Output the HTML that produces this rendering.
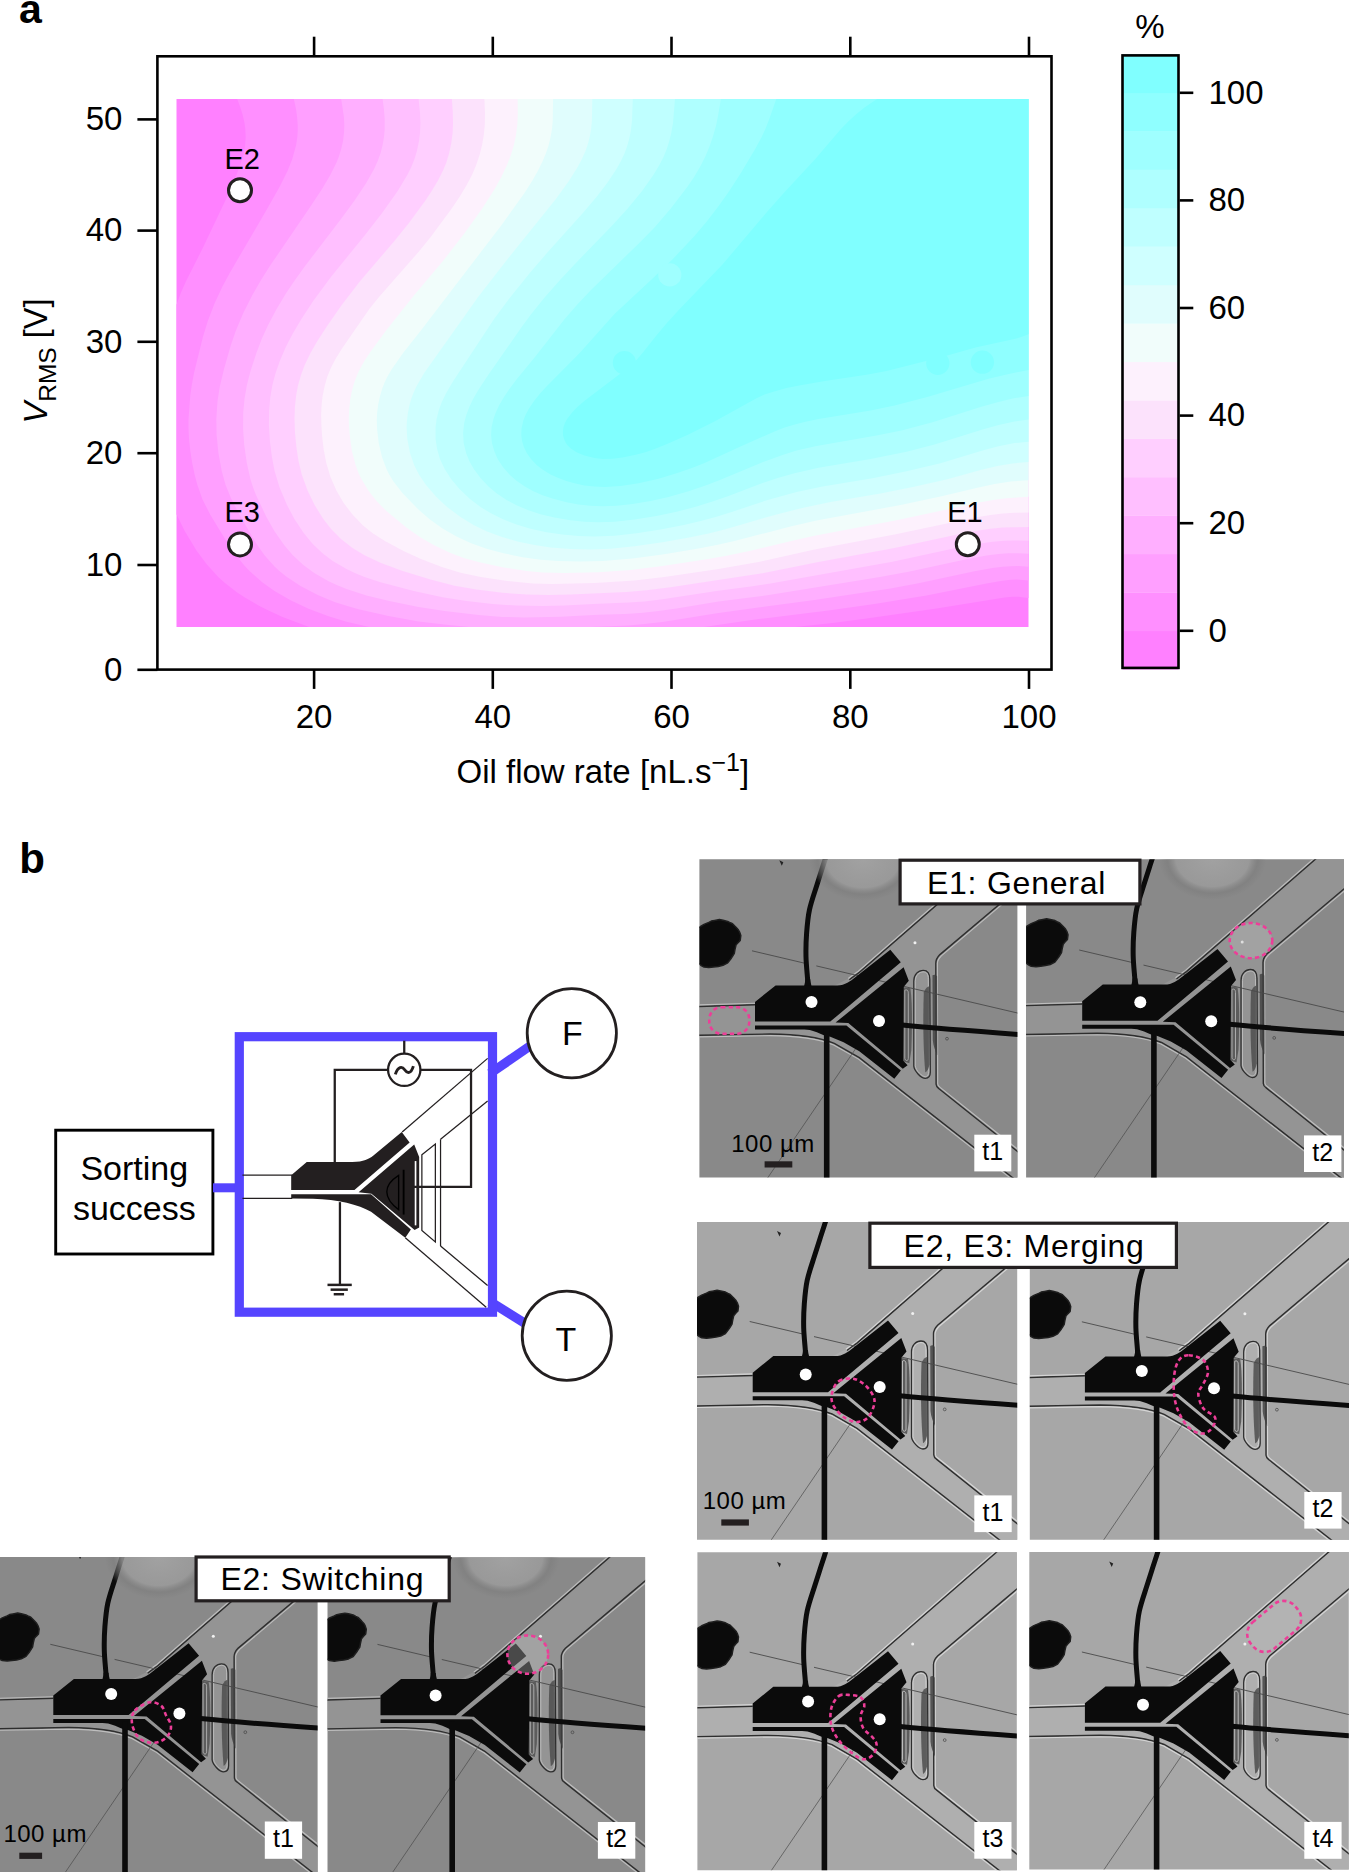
<!DOCTYPE html>
<html><head><meta charset="utf-8"><style>
html,body{margin:0;padding:0;background:#fff;}
body{width:1350px;height:1872px;overflow:hidden;}
svg{display:block;font-family:"Liberation Sans", sans-serif;}
</style></head><body>
<svg width="1350" height="1872" viewBox="0 0 1350 1872" font-family='"Liberation Sans", sans-serif'>
<text x="19" y="23.3" font-size="41" font-weight="bold">a</text>
<g id="contour"><rect x="176.5" y="99.0" width="852.0" height="528.0" fill="#FF80FF"/>
<path fill="#FF8FFF" fill-rule="evenodd" d="M238.5,99.0 1028.5,99.0 1028.5,598.0 1018.5,596.7 1012.5,596.7 1004.5,597.5 936.5,608.4 866.5,618.6 832.5,623.0 795.2,627.0 309.2,627.0 282.5,617.0 268.5,610.6 258.5,605.4 244.5,597.2 236.5,591.9 225.0,583.0 218.5,577.3 206.5,564.1 196.8,551.0 184.7,531.0 176.5,514.3 176.5,304.7 180.8,293.0 186.1,281.0 202.3,249.0 228.0,195.0 236.5,175.0 242.2,159.0 244.2,151.0 245.1,145.0 245.7,137.0 245.3,129.0 244.5,123.0 242.7,115.0 240.2,107.0 237.2,99.0Z"/>
<path fill="#FF9FFF" fill-rule="evenodd" d="M294.5,99.0 1028.5,99.0 1028.5,580.5 1016.5,579.6 1008.5,580.1 1000.8,581.0 986.5,583.5 926.5,595.5 874.5,604.0 828.5,610.6 758.5,619.1 704.0,627.0 369.3,627.0 346.5,621.8 328.5,616.3 308.5,608.7 290.5,600.3 274.5,591.1 262.5,582.6 249.5,571.0 243.9,565.0 239.1,559.0 225.0,539.0 210.4,515.0 202.5,499.4 197.4,485.0 194.7,475.0 192.2,463.0 190.3,451.0 189.0,439.0 188.5,429.0 188.5,419.0 190.3,395.0 191.8,385.0 194.0,373.0 202.9,337.0 207.8,321.0 214.7,303.0 222.2,287.0 229.7,273.0 265.9,211.0 279.5,187.0 287.5,171.0 292.3,159.0 296.1,145.0 297.3,137.0 297.7,131.0 297.7,125.0 297.1,117.0 296.0,109.0 293.8,99.0Z"/>
<path fill="#FFAFFF" fill-rule="evenodd" d="M342.5,99.0 1028.5,99.0 1028.5,566.8 1018.5,566.1 1010.5,566.2 1002.5,566.7 992.5,568.0 974.5,571.3 918.5,583.2 890.5,588.4 814.5,600.0 718.5,612.9 662.5,621.9 644.5,624.1 628.5,625.5 590.5,627.0 469.2,627.0 446.5,624.8 418.5,621.4 388.5,616.0 358.5,609.2 346.5,605.8 334.5,601.9 317.7,595.0 300.5,586.1 286.9,577.0 279.3,571.0 274.5,566.6 264.5,555.2 255.9,543.0 239.6,515.0 231.3,499.0 225.6,485.0 221.7,471.0 218.4,453.0 216.6,435.0 216.3,419.0 217.5,401.0 219.7,387.0 224.0,369.0 230.9,345.0 235.7,331.0 243.3,313.0 252.4,295.0 260.4,281.0 270.5,265.1 310.1,207.0 322.0,189.0 330.3,175.0 336.3,163.0 338.7,157.0 341.2,149.0 343.0,141.0 344.0,133.0 344.3,125.0 343.9,117.0 341.2,99.0Z"/>
<path fill="#FFBFFF" fill-rule="evenodd" d="M384.5,99.0 1028.5,99.0 1028.5,553.8 1018.5,553.3 1008.5,553.3 998.5,554.0 986.5,555.5 966.5,559.2 908.5,571.8 878.5,577.3 770.5,594.8 718.5,601.6 676.5,608.4 656.5,611.3 640.5,613.0 624.5,614.1 598.5,614.8 560.5,616.8 524.5,617.4 502.5,616.9 478.5,615.1 444.5,611.1 418.5,607.0 389.2,601.0 366.5,595.5 346.5,588.9 336.7,585.0 328.5,581.2 314.2,573.0 303.3,565.0 292.6,555.0 284.1,545.0 274.5,531.2 266.4,517.0 256.0,495.0 252.9,487.0 250.4,479.0 246.8,463.0 244.2,445.0 243.1,429.0 243.2,413.0 244.5,399.0 246.9,385.0 250.5,371.0 256.4,353.0 261.7,339.0 268.1,325.0 276.6,309.0 286.2,293.0 294.5,280.7 304.5,266.8 341.0,219.0 354.2,201.0 366.2,183.0 374.1,169.0 377.7,161.0 380.6,153.0 382.6,145.0 384.0,137.0 384.7,129.0 384.7,119.0 383.9,109.0 382.6,99.0Z"/>
<path fill="#FFCFFF" fill-rule="evenodd" d="M420.5,99.0 1028.5,99.0 1028.5,540.8 1014.5,540.4 1004.5,540.7 992.5,541.7 980.5,543.4 960.5,547.1 892.5,561.7 770.5,583.4 752.5,586.3 716.5,591.0 662.5,599.3 644.5,601.4 628.5,602.6 598.5,603.7 564.5,605.6 542.5,605.9 516.5,605.6 492.5,604.0 466.5,601.1 442.5,597.2 413.8,591.0 380.5,582.3 364.5,577.0 354.8,573.0 346.5,569.1 332.7,561.0 322.5,553.3 312.5,543.7 303.7,533.0 294.4,519.0 287.0,505.0 279.4,487.0 274.6,471.0 271.9,457.0 269.9,441.0 268.9,425.0 269.1,411.0 270.3,397.0 272.4,385.0 275.6,373.0 279.8,361.0 285.8,347.0 293.1,333.0 301.4,319.0 313.2,301.0 330.9,277.0 365.0,235.0 382.1,213.0 397.7,191.0 407.3,175.0 411.3,167.0 414.5,159.0 416.9,151.0 419.0,141.0 420.0,133.0 420.4,123.0 420.0,113.0 418.6,99.0Z"/>
<path fill="#FCE2FC" fill-rule="evenodd" d="M452.5,99.0 1028.5,99.0 1028.5,527.1 1012.5,527.2 1002.5,527.6 990.5,528.7 978.5,530.5 958.5,534.3 894.5,548.0 818.5,561.9 762.5,573.3 670.5,587.2 646.5,590.2 626.5,591.9 570.5,594.6 548.5,595.0 526.5,594.5 502.5,592.8 476.5,589.6 454.5,585.7 430.5,579.6 402.7,571.0 381.0,563.0 364.5,555.3 352.5,548.0 341.0,539.0 331.1,529.0 323.3,519.0 314.6,505.0 307.8,491.0 301.9,475.0 298.5,461.0 296.4,447.0 295.0,433.0 294.5,419.0 294.9,407.0 296.2,395.0 298.1,385.0 301.0,375.0 304.7,365.0 310.5,353.0 317.4,341.0 327.8,325.0 341.7,305.0 360.2,281.0 394.4,241.0 408.9,223.0 425.1,201.0 431.7,191.0 437.7,181.0 442.8,171.0 446.2,163.0 449.2,153.0 451.3,143.0 452.6,133.0 453.0,123.0 452.8,113.0 451.9,99.0Z"/>
<path fill="#FDF1FD" fill-rule="evenodd" d="M484.5,99.0 1028.5,99.0 1028.5,512.5 1014.5,512.8 1002.5,513.6 990.5,515.0 976.5,517.3 894.5,534.5 814.5,549.5 758.5,561.9 718.5,569.0 664.3,577.0 634.5,580.4 594.5,582.9 552.5,584.1 532.5,583.5 507.3,581.0 480.9,577.0 460.5,572.7 441.8,567.0 421.0,559.0 403.5,551.0 384.9,541.0 372.3,533.0 362.5,524.9 352.5,514.6 343.7,503.0 336.5,490.7 330.5,477.0 326.3,463.0 323.6,449.0 322.2,437.0 321.4,425.0 321.1,415.0 321.6,405.0 322.5,396.8 324.4,387.0 327.2,377.0 330.4,369.0 335.5,359.0 341.7,349.0 369.3,309.0 379.0,297.0 418.5,252.0 430.5,237.2 451.4,209.0 459.5,197.0 466.7,185.0 472.0,175.0 476.2,165.0 479.6,155.0 482.1,145.0 483.8,135.0 484.8,125.0 485.0,113.0 484.4,99.0Z"/>
<path fill="#F1FDFB" fill-rule="evenodd" d="M518.5,99.0 1028.5,99.0 1028.5,496.8 1006.5,498.2 994.5,499.8 980.5,502.3 896.5,520.3 814.5,535.7 794.5,540.2 749.5,551.0 726.5,555.7 708.2,559.0 662.5,566.0 630.5,569.9 598.5,572.2 564.5,572.9 542.5,572.4 526.5,570.9 502.5,567.3 480.5,562.6 464.5,558.2 450.5,553.0 433.6,545.0 419.8,537.0 405.7,527.0 386.4,511.0 376.5,501.1 368.7,491.0 361.4,479.0 358.5,472.9 355.6,465.0 351.9,451.0 349.7,435.0 348.9,425.0 348.8,417.0 349.2,409.0 350.3,399.0 351.9,391.0 354.1,383.0 357.1,375.0 359.9,369.0 364.4,361.0 369.6,353.0 386.5,329.9 414.3,295.0 443.0,261.0 464.5,233.3 481.9,209.0 494.7,189.0 501.3,177.0 507.0,165.0 510.9,155.0 513.9,145.0 516.0,135.0 517.3,125.0 517.8,115.0 517.7,99.0Z"/>
<path fill="#E0FDFD" fill-rule="evenodd" d="M554.5,99.0 1028.5,99.0 1028.5,480.2 1010.5,481.5 994.5,484.0 978.5,487.4 940.5,496.5 900.6,505.0 816.5,520.6 790.5,526.5 734.5,541.0 716.6,545.0 698.5,548.5 662.5,554.5 632.5,558.4 602.5,561.0 580.5,561.5 558.5,561.0 540.5,559.7 522.5,557.2 502.5,553.0 486.5,548.7 470.5,543.0 456.5,536.5 442.5,528.4 429.3,519.0 417.9,509.0 402.4,493.0 393.1,481.0 389.5,475.0 386.5,469.0 382.0,457.0 378.7,443.0 377.1,429.0 376.8,421.0 377.1,413.0 378.1,405.0 379.8,397.0 382.1,389.0 384.4,383.0 387.2,377.0 391.9,369.0 403.1,353.0 420.5,330.9 501.6,225.0 524.5,193.0 532.1,181.0 537.8,171.0 542.7,161.0 546.0,153.0 548.7,145.0 550.6,137.0 552.0,129.0 552.7,121.0 553.1,99.0Z"/>
<path fill="#CFFFFF" fill-rule="evenodd" d="M592.5,99.0 1028.5,99.0 1028.5,461.9 1012.5,463.4 998.5,465.7 980.5,470.1 948.4,479.0 912.8,487.0 880.5,493.6 830.5,502.1 804.5,507.4 776.5,514.4 724.5,529.4 708.5,533.4 690.5,537.2 662.5,542.3 634.5,546.3 610.5,548.7 590.5,549.5 570.5,549.0 550.5,547.4 534.5,545.1 518.5,541.7 501.9,537.0 486.5,531.2 473.5,525.0 460.5,517.1 447.1,507.0 436.4,497.0 426.0,485.0 419.2,475.0 414.1,465.0 410.0,453.0 407.3,439.0 406.6,427.0 406.9,421.0 407.9,413.0 409.5,405.0 411.2,399.0 413.4,393.0 416.5,386.2 424.2,373.0 478.1,297.0 504.5,262.9 555.9,199.0 568.9,181.0 577.7,167.0 581.9,159.0 585.5,151.0 587.6,145.0 589.7,137.0 591.1,129.0 591.9,121.0 592.3,99.0Z"/>
<path fill="#BFFFFF" fill-rule="evenodd" d="M634.5,99.0 1028.5,99.0 1028.5,441.7 1014.5,443.1 998.5,446.3 982.5,450.6 940.5,463.3 906.5,471.2 872.5,478.2 822.5,486.4 796.5,492.0 768.5,499.7 732.5,511.7 716.5,516.7 700.7,521.0 683.8,525.0 660.5,529.6 636.5,533.3 614.5,535.7 594.5,536.5 578.5,536.0 562.5,534.5 546.5,532.2 530.5,528.8 516.5,524.6 502.5,519.1 490.5,513.1 480.5,507.0 470.0,499.0 459.5,489.0 451.1,479.0 444.7,469.0 440.0,459.0 437.1,449.0 435.6,439.0 435.6,427.0 436.6,419.0 438.6,411.0 441.4,403.0 446.2,393.0 453.3,381.0 494.1,319.0 510.5,296.9 529.8,273.0 546.5,253.6 582.9,213.0 596.5,197.0 607.2,183.0 616.5,169.0 621.0,161.0 624.7,153.0 626.9,147.0 629.2,139.0 630.8,131.0 632.0,121.0 632.8,99.0Z"/>
<path fill="#AFFFFF" fill-rule="evenodd" d="M676.5,99.0 1028.5,99.0 1028.5,419.6 1014.5,421.4 998.5,425.0 982.5,429.6 934.5,444.6 906.5,451.7 870.6,459.0 818.5,467.8 794.5,473.2 778.5,477.8 762.5,483.0 728.5,496.0 712.5,501.6 694.9,507.0 676.5,511.8 656.5,516.1 634.5,519.6 614.5,521.7 598.5,522.3 584.5,521.8 570.5,520.3 554.5,517.5 540.5,514.2 528.5,510.3 516.5,505.3 506.5,499.9 496.5,493.2 488.5,486.5 480.5,478.1 473.8,469.0 469.3,461.0 466.1,453.0 463.7,443.0 463.1,433.0 464.2,423.0 466.3,415.0 469.3,407.0 473.1,399.0 477.7,391.0 488.2,375.0 521.7,327.0 530.5,315.1 545.0,297.0 560.5,279.4 574.5,264.4 610.8,227.0 627.3,209.0 642.1,191.0 653.4,175.0 659.4,165.0 663.5,157.0 666.8,149.0 669.3,141.0 671.3,133.0 673.0,123.0 675.0,99.0Z"/>
<path fill="#9FFFFF" fill-rule="evenodd" d="M722.5,99.0 1028.5,99.0 1028.5,395.9 1012.5,398.5 996.5,402.4 980.5,407.1 932.5,422.2 902.5,430.3 876.5,435.6 816.5,445.9 796.5,450.5 782.5,454.9 762.5,462.2 720.5,479.7 706.9,485.0 688.5,491.2 668.5,496.9 650.5,500.9 632.5,503.9 616.5,505.7 602.5,506.2 590.5,505.8 578.5,504.4 566.5,502.2 552.5,498.5 542.5,495.2 532.9,491.0 524.5,486.3 516.5,480.8 509.9,475.0 502.9,467.0 497.7,459.0 494.2,451.0 492.0,443.0 491.1,435.0 491.6,427.0 493.5,419.0 495.6,413.0 499.3,405.0 504.0,397.0 509.4,389.0 516.9,379.0 535.0,357.0 564.7,319.0 576.9,305.0 590.5,290.4 639.3,243.0 654.5,227.4 670.4,209.0 687.3,187.0 694.1,177.0 700.0,167.0 705.1,157.0 709.3,147.0 712.8,137.0 716.2,125.0 718.2,115.0 720.9,99.0Z"/>
<path fill="#8FFFFF" fill-rule="evenodd" d="M776.5,99.0 1028.5,99.0 1028.5,369.9 1006.5,374.4 988.5,378.8 927.2,397.0 894.5,405.6 870.5,410.5 818.5,418.9 806.5,421.4 796.5,423.9 784.5,427.6 774.5,431.5 740.5,446.4 704.5,462.9 692.5,467.7 677.4,473.0 658.5,478.7 638.5,483.3 620.5,486.1 604.5,487.0 594.5,486.6 584.5,485.4 574.5,483.3 566.4,481.0 558.5,478.1 550.5,474.4 542.5,469.6 536.7,465.0 531.0,459.0 526.8,453.0 523.9,447.0 522.1,441.0 521.3,435.0 521.5,429.0 523.2,421.0 525.5,415.0 528.7,409.0 534.1,401.0 540.5,393.0 546.5,386.4 579.7,353.0 614.5,314.0 650.5,280.6 672.9,259.0 694.5,235.9 707.2,221.0 719.4,205.0 729.3,191.0 740.9,173.0 755.2,149.0 761.7,137.0 765.4,129.0 769.3,119.0 776.3,99.0Z"/>
<path fill="#80FFFF" fill-rule="evenodd" d="M874.5,100.7 877.2,99.0 1028.5,99.0 1028.5,334.2 1022.5,336.6 1016.5,338.4 976.5,347.2 941.8,357.0 886.5,371.1 866.5,374.8 826.5,380.8 800.5,385.3 786.5,388.1 772.5,391.9 764.5,394.6 756.5,398.2 715.4,421.0 687.4,435.0 669.4,443.0 654.7,449.0 644.5,452.4 634.5,455.1 622.5,457.6 612.5,458.8 602.7,459.0 594.5,458.0 584.5,455.6 576.5,452.2 570.5,448.2 567.3,445.0 565.9,443.0 564.0,439.0 563.0,435.0 562.9,431.0 563.5,427.0 564.9,423.0 567.1,419.0 572.5,411.9 577.4,407.0 584.3,401.0 623.8,371.0 631.1,365.0 636.5,359.9 642.5,353.1 656.8,335.0 666.9,323.0 679.7,309.0 722.5,264.5 766.5,212.6 784.5,192.3 815.3,159.0 840.5,129.5 848.5,121.3 856.5,114.0 864.5,107.6 874.0,101.0Z"/></g>
<circle cx="624.4" cy="362.7" r="11.6" fill="#80FFFF"/>
<circle cx="669.8" cy="274.9" r="11.6" fill="#9FFFFF"/>
<circle cx="937.8" cy="363.3" r="11.6" fill="#80FFFF"/>
<circle cx="982.4" cy="362.2" r="11.6" fill="#80FFFF"/>
<rect x="157.4" y="56.3" width="894.1" height="613.3" fill="none" stroke="#000" stroke-width="2.6"/>
<line x1="137.4" y1="119.4" x2="157.4" y2="119.4" stroke="#000" stroke-width="2.6"/>
<text x="122.4" y="130.2" font-size="33" text-anchor="end">50</text>
<line x1="137.4" y1="230.6" x2="157.4" y2="230.6" stroke="#000" stroke-width="2.6"/>
<text x="122.4" y="241.4" font-size="33" text-anchor="end">40</text>
<line x1="137.4" y1="341.8" x2="157.4" y2="341.8" stroke="#000" stroke-width="2.6"/>
<text x="122.4" y="352.6" font-size="33" text-anchor="end">30</text>
<line x1="137.4" y1="453.2" x2="157.4" y2="453.2" stroke="#000" stroke-width="2.6"/>
<text x="122.4" y="464.0" font-size="33" text-anchor="end">20</text>
<line x1="137.4" y1="565.0" x2="157.4" y2="565.0" stroke="#000" stroke-width="2.6"/>
<text x="122.4" y="575.8" font-size="33" text-anchor="end">10</text>
<line x1="137.4" y1="669.8" x2="157.4" y2="669.8" stroke="#000" stroke-width="2.6"/>
<text x="122.4" y="680.6" font-size="33" text-anchor="end">0</text>
<line x1="314.1" y1="36.7" x2="314.1" y2="56.3" stroke="#000" stroke-width="2.6"/>
<line x1="314.1" y1="669.6" x2="314.1" y2="688.9" stroke="#000" stroke-width="2.6"/>
<text x="314.1" y="727.8" font-size="33" text-anchor="middle">20</text>
<line x1="492.8" y1="36.7" x2="492.8" y2="56.3" stroke="#000" stroke-width="2.6"/>
<line x1="492.8" y1="669.6" x2="492.8" y2="688.9" stroke="#000" stroke-width="2.6"/>
<text x="492.8" y="727.8" font-size="33" text-anchor="middle">40</text>
<line x1="671.5" y1="36.7" x2="671.5" y2="56.3" stroke="#000" stroke-width="2.6"/>
<line x1="671.5" y1="669.6" x2="671.5" y2="688.9" stroke="#000" stroke-width="2.6"/>
<text x="671.5" y="727.8" font-size="33" text-anchor="middle">60</text>
<line x1="850.3" y1="36.7" x2="850.3" y2="56.3" stroke="#000" stroke-width="2.6"/>
<line x1="850.3" y1="669.6" x2="850.3" y2="688.9" stroke="#000" stroke-width="2.6"/>
<text x="850.3" y="727.8" font-size="33" text-anchor="middle">80</text>
<line x1="1029.0" y1="36.7" x2="1029.0" y2="56.3" stroke="#000" stroke-width="2.6"/>
<line x1="1029.0" y1="669.6" x2="1029.0" y2="688.9" stroke="#000" stroke-width="2.6"/>
<text x="1029.0" y="727.8" font-size="33" text-anchor="middle">100</text>
<text x="456.5" y="782.9" font-size="33">Oil flow rate [nL.s<tspan font-size="25" dy="-12">−1</tspan><tspan dy="12">]</tspan></text>
<text transform="translate(47.4,423.5) rotate(-90)" font-size="32.5"><tspan font-style="italic">V</tspan><tspan font-size="24.5" dy="8.6">RMS</tspan><tspan dy="-8.6"> [V]</tspan></text>
<text x="242.2" y="168.9" font-size="29" text-anchor="middle">E2</text>
<circle cx="240" cy="190.2" r="11.5" fill="#fff" stroke="#231F20" stroke-width="3"/>
<text x="242.2" y="522.2" font-size="29" text-anchor="middle">E3</text>
<circle cx="240" cy="544.4" r="11.5" fill="#fff" stroke="#231F20" stroke-width="3"/>
<text x="965" y="522" font-size="29" text-anchor="middle">E1</text>
<circle cx="967.8" cy="544.3" r="11.5" fill="#fff" stroke="#231F20" stroke-width="3"/>
<rect x="1122.5" y="630.80" width="56" height="38.73" fill="#FF80FF"/>
<rect x="1122.5" y="592.37" width="56" height="38.73" fill="#FF8FFF"/>
<rect x="1122.5" y="553.94" width="56" height="38.73" fill="#FF9FFF"/>
<rect x="1122.5" y="515.51" width="56" height="38.73" fill="#FFAFFF"/>
<rect x="1122.5" y="477.08" width="56" height="38.73" fill="#FFBFFF"/>
<rect x="1122.5" y="438.65" width="56" height="38.73" fill="#FFCFFF"/>
<rect x="1122.5" y="400.22" width="56" height="38.73" fill="#FCE2FC"/>
<rect x="1122.5" y="361.79" width="56" height="38.73" fill="#FDF1FD"/>
<rect x="1122.5" y="323.36" width="56" height="38.73" fill="#F1FDFB"/>
<rect x="1122.5" y="284.93" width="56" height="38.73" fill="#E0FDFD"/>
<rect x="1122.5" y="246.50" width="56" height="38.73" fill="#CFFFFF"/>
<rect x="1122.5" y="208.07" width="56" height="38.73" fill="#BFFFFF"/>
<rect x="1122.5" y="169.64" width="56" height="38.73" fill="#AFFFFF"/>
<rect x="1122.5" y="131.21" width="56" height="38.73" fill="#9FFFFF"/>
<rect x="1122.5" y="92.78" width="56" height="38.73" fill="#8FFFFF"/>
<rect x="1122.5" y="54.35" width="56" height="38.73" fill="#80FFFF"/>
<rect x="1122.5" y="55.4" width="56" height="612.5" fill="none" stroke="#000" stroke-width="2.6"/>
<line x1="1179.7" y1="630.8" x2="1193.3" y2="630.8" stroke="#000" stroke-width="2.6"/>
<text x="1208.5" y="641.6" font-size="33">0</text>
<line x1="1179.7" y1="523.2" x2="1193.3" y2="523.2" stroke="#000" stroke-width="2.6"/>
<text x="1208.5" y="534.0" font-size="33">20</text>
<line x1="1179.7" y1="415.6" x2="1193.3" y2="415.6" stroke="#000" stroke-width="2.6"/>
<text x="1208.5" y="426.4" font-size="33">40</text>
<line x1="1179.7" y1="308.0" x2="1193.3" y2="308.0" stroke="#000" stroke-width="2.6"/>
<text x="1208.5" y="318.8" font-size="33">60</text>
<line x1="1179.7" y1="200.4" x2="1193.3" y2="200.4" stroke="#000" stroke-width="2.6"/>
<text x="1208.5" y="211.2" font-size="33">80</text>
<line x1="1179.7" y1="92.8" x2="1193.3" y2="92.8" stroke="#000" stroke-width="2.6"/>
<text x="1208.5" y="103.6" font-size="33">100</text>
<text x="1150" y="38.3" font-size="33" text-anchor="middle">%</text>
<text x="19.3" y="872.6" font-size="42" font-weight="bold">b</text>
<rect x="55.7" y="1130.2" width="157.2" height="123.8" fill="#fff" stroke="#000" stroke-width="2.9"/>
<text x="134.3" y="1180" font-size="34" text-anchor="middle">Sorting</text>
<text x="134.3" y="1220" font-size="34" text-anchor="middle">success</text>
<rect x="213" y="1183.3" width="27" height="9" fill="#5544FF"/>
<line x1="490" y1="1073.5" x2="530" y2="1046" stroke="#5544FF" stroke-width="9.4"/>
<line x1="490" y1="1301.5" x2="526" y2="1324" stroke="#5544FF" stroke-width="9.2"/>
<rect x="239.3" y="1036.7" width="253.2" height="275.5" fill="none" stroke="#5544FF" stroke-width="9.2"/>
<circle cx="571.8" cy="1033.2" r="44.6" fill="#fff" stroke="#231F20" stroke-width="2.8"/>
<text x="572.5" y="1045" font-size="34" text-anchor="middle">F</text>
<circle cx="566.8" cy="1335.7" r="44.6" fill="#fff" stroke="#231F20" stroke-width="2.8"/>
<text x="566" y="1351.1" font-size="34" text-anchor="middle">T</text>
<g id="diag" transform="translate(230,1020) scale(0.20743)"><g fill="none" stroke="#231F20" stroke-width="6">
<line x1="60" y1="748" x2="300" y2="748"/>
<line x1="60" y1="860" x2="300" y2="860"/>
<line x1="830" y1="540" x2="1242" y2="185"/>
<line x1="1015" y1="575" x2="1242" y2="390"/>
<line x1="845" y1="1050" x2="1235" y2="1385"/>
<line x1="1015" y1="1090" x2="1242" y2="1280"/>
<line x1="1015" y1="575" x2="1015" y2="1090"/>
<path d="M925,650 L990,598 L990,1070 L925,1015 Z"/>
<line x1="905" y1="675" x2="905" y2="1002"/>
</g>
<g fill="#231F20">
<path d="M295,748 L370,685 L590,685 C645,685 670,670 690,655 L828,540 L866,590 L600,820 L295,820 Z"/>
<path d="M620,830 L888,600 L912,660 L912,1000 L890,1012 L682,838 Z"/>
<path d="M295,840 L680,840 L872,1010 L845,1050 L680,925 C620,890 520,866 400,862 L295,860 Z"/>
</g>
<g fill="none" stroke="#000" stroke-width="6.5">
<path d="M813,749 C772,775 756,800 756,828 C756,860 780,890 813,914 Z"/>
<line x1="837" y1="722" x2="837" y2="938" stroke-width="9"/>
</g>
<line x1="894.5" y1="680" x2="894.5" y2="990" stroke="#fff" stroke-width="8"/>
<g fill="none" stroke="#231F20" stroke-width="11">
<line x1="840" y1="100" x2="840" y2="162"/>
<circle cx="840" cy="240" r="78" fill="#fff"/>
<path d="M797,262 C810,222 830,222 842,240 C854,258 872,262 884,222" stroke-width="14"/>
<polyline points="762,240 505,240 505,688"/>
<polyline points="918,240 1162,240 1162,805 885,805"/>
<line x1="530" y1="878" x2="530" y2="1277"/>
<line x1="470" y1="1277" x2="587" y2="1277" stroke-width="12"/>
<line x1="485" y1="1300" x2="568" y2="1300" stroke-width="12"/>
<line x1="500" y1="1322" x2="550" y2="1322" stroke-width="12"/>
</g>
</g>
<defs><radialGradient id="bul"><stop offset="0" stop-color="#A3A3A3" stop-opacity="0.95"/><stop offset="0.68" stop-color="#9D9D9D" stop-opacity="0.8"/><stop offset="0.84" stop-color="#7C7C7C" stop-opacity="0.55"/><stop offset="1" stop-color="#7C7C7C" stop-opacity="0"/></radialGradient>
<g id="tplA"><rect x="-30" y="-30" width="400" height="400" fill="#A7A7A7"/><path fill="#AFAFAF" d="M-30,157 L55.7,154.5 L100,148 L138,134 C145,130 152,127 160,122.1 L323,-20 L388,-20 L305.8,49.2 L240.6,104.3 C238,107 236.5,109 236.5,113 L236.8,234 C237,236 238,237.5 239.4,238.2 L360,334.5 L360,360 L355,360 L160,207.4 L135,193 C120,187 100,184 71,183.7 L-30,185.5 Z"/><g fill="none" stroke="#2E2E2E" stroke-width="1.4"><path d="M-30,157 L55.7,154.5"/><path d="M-30,185.5 L71,183.7 C100,184 120,187 135,193 L160,207.4 L355,360"/><path d="M150,129.5 C153,127 156,125 160,122.1 L323,-20"/><path d="M388,-20 L305.8,49.2 L240.6,104.3 C238,107 236.5,109 236.5,113 L236.8,234 C237,236 238,237.5 239.4,238.2 L360,334.5"/></g><g fill="none" stroke="#D6D6D6" stroke-width="1.1"><path d="M-30,155.4 L55.7,152.9"/><path d="M-30,187.1 L71,185.3 C99.5,185.6 119.5,188.6 134.4,194.6 L159.2,208.8 L354,361.3"/><path d="M149,128.2 C152,125.8 155,123.8 159,120.9 L322,-21.2"/><path d="M389.5,-18.8 L307.2,50.4 L242,105.5 C239.6,108 238.1,110 238.1,113 L238.4,233.5 C238.6,235 239.4,236.2 240.5,236.8 L361.5,333.3"/></g><path d="M214.5,131 C214.5,124 219,120 224,120 C228,120 230.5,123 230.5,129 L231,222 C231,226 229,228 226,228 C222,228 215,221 214.5,216 Z" fill="#AFAFAF" stroke="#2E2E2E" stroke-width="1.3"/><path d="M216,131 C216,125 220,121.6 224,121.6 C227.5,121.6 229,124 229,129 L229.5,221 C229.5,224.5 228,226.4 226,226.4 C223,226.4 216.6,220.5 216,215.5 Z" fill="none" stroke="#D6D6D6" stroke-width="0.9"/><path d="M224.5,142 C226,138 228.5,136 230,136 L230.3,214 C229,220 227,222 226,222 C224,200 223.5,170 224.5,142 Z" fill="#4E4E4E" opacity="0.85"/><path d="M233.2,125 C235,124 236.5,124 237.8,126 L238,205 C236,200 234,196 233.5,190 Z" fill="#3E3E3E" opacity="0.8"/><path d="M204,137 L211,138 C213,150 213,175 212,200 L210,213 L204,211 Z" fill="#5C5C5C"/><path d="M205.5,140 C207.5,139 209,140 209,143 L209,208 C209,211 206,211 205.5,208 Z" fill="none" stroke="#D6D6D6" stroke-width="0.8"/><path d="M-10,78 L0,77 L4.7,74.1 L9.5,72.1 L12,70.8 L15.4,70.2 L20.1,69.3 L23.7,69.9 L28.4,71.1 L31,72.5 L33.2,73.5 L36.7,77 L39,79.5 L40.3,81.8 L41.5,85.3 L40.9,90.1 L38.5,92.6 L36.7,94.8 L35.6,99.6 L35,103.1 L33.5,105.5 L32,107.9 L28.4,112.6 L23.7,115 L19,116.1 L14.2,116.7 L9.5,117.3 L4.7,116.7 L2.4,115.6 L0,113.8 L-10,114Z" fill="#0B0B0B" stroke="#1E1E1E" stroke-width="1.5" stroke-linejoin="round"/><g stroke="#4A4A4A" stroke-width="0.9" fill="none"><path d="M52.7,100.5 L107,113.3 M117,115.6 L345,169"/><path d="M56.5,345 L160,193" stroke-width="0.7"/></g><path d="M80,10 L84,12 L82.5,15.5 Z" fill="#222"/><circle cx="215.7" cy="92.4" r="1.5" fill="#F0F0F0"/><circle cx="247.7" cy="188.4" r="1.4" fill="none" stroke="#444" stroke-width="0.7"/><g fill="none" stroke="#0B0B0B"><path d="M134.5,-20 C133.5,-16.5 130.4,-5.5 128.4,1 C126.4,7.5 124.4,13.2 122.6,19 C120.8,24.8 119.4,28.9 117.3,35.6 C115.2,42.3 111.9,51.4 110.2,59.3 C108.5,67.2 107.9,75.1 107.3,83 C106.7,90.9 106.5,98.8 106.7,106.7 C106.9,114.6 108.1,125.4 108.4,130.4 C108.7,135.5 108.7,135.9 108.7,137" stroke-width="5"/><path d="M203,174.8 C230,177.5 280,181.5 360,187" stroke-width="5"/></g><path d="M104.5,137 C105.5,133 106,131 106,129 L111,129 C111,131 111.5,133 112.5,137 Z" fill="#0B0B0B"/><g fill="#0B0B0B"><path d="M55.7,151.7 L76.3,135.1 L138,135.1 C146,135.1 151,131 156,127 L191,99.5 L201.5,112 L131,171.3 L55.7,171.3 Z"/><path d="M136.3,172.3 L204.3,117 L209.5,130.5 L204.5,136.5 L204,210.5 L208.3,215 L203.5,218.5 L149,172.8 Z"/><path d="M55.7,175.3 L147.1,175.3 L201.6,220.3 L195,228.5 L160,201 L144.3,192 L131,186.5 L124.6,185 C118,182 113,179.5 105,179.2 L55.7,179.2 Z"/><rect x="124.6" y="178" width="5.6" height="200"/></g></g>
<g id="tplB"><rect x="-30" y="-30" width="400" height="400" fill="#898989"/><path fill="#949494" d="M-30,157 L55.7,154.5 L100,148 L138,134 C145,130 152,127 160,122.1 L323,-20 L388,-20 L305.8,49.2 L240.6,104.3 C238,107 236.5,109 236.5,113 L236.8,234 C237,236 238,237.5 239.4,238.2 L360,334.5 L360,360 L355,360 L160,207.4 L135,193 C120,187 100,184 71,183.7 L-30,185.5 Z"/><g fill="none" stroke="#2E2E2E" stroke-width="1.4"><path d="M-30,157 L55.7,154.5"/><path d="M-30,185.5 L71,183.7 C100,184 120,187 135,193 L160,207.4 L355,360"/><path d="M150,129.5 C153,127 156,125 160,122.1 L323,-20"/><path d="M388,-20 L305.8,49.2 L240.6,104.3 C238,107 236.5,109 236.5,113 L236.8,234 C237,236 238,237.5 239.4,238.2 L360,334.5"/></g><g fill="none" stroke="#BEBEBE" stroke-width="1.1"><path d="M-30,155.4 L55.7,152.9"/><path d="M-30,187.1 L71,185.3 C99.5,185.6 119.5,188.6 134.4,194.6 L159.2,208.8 L354,361.3"/><path d="M149,128.2 C152,125.8 155,123.8 159,120.9 L322,-21.2"/><path d="M389.5,-18.8 L307.2,50.4 L242,105.5 C239.6,108 238.1,110 238.1,113 L238.4,233.5 C238.6,235 239.4,236.2 240.5,236.8 L361.5,333.3"/></g><path d="M214.5,131 C214.5,124 219,120 224,120 C228,120 230.5,123 230.5,129 L231,222 C231,226 229,228 226,228 C222,228 215,221 214.5,216 Z" fill="#949494" stroke="#2E2E2E" stroke-width="1.3"/><path d="M216,131 C216,125 220,121.6 224,121.6 C227.5,121.6 229,124 229,129 L229.5,221 C229.5,224.5 228,226.4 226,226.4 C223,226.4 216.6,220.5 216,215.5 Z" fill="none" stroke="#BEBEBE" stroke-width="0.9"/><path d="M224.5,142 C226,138 228.5,136 230,136 L230.3,214 C229,220 227,222 226,222 C224,200 223.5,170 224.5,142 Z" fill="#4E4E4E" opacity="0.85"/><path d="M233.2,125 C235,124 236.5,124 237.8,126 L238,205 C236,200 234,196 233.5,190 Z" fill="#3E3E3E" opacity="0.8"/><path d="M204,137 L211,138 C213,150 213,175 212,200 L210,213 L204,211 Z" fill="#5C5C5C"/><path d="M205.5,140 C207.5,139 209,140 209,143 L209,208 C209,211 206,211 205.5,208 Z" fill="none" stroke="#BEBEBE" stroke-width="0.8"/><path d="M-10,78 L0,77 L4.7,74.1 L9.5,72.1 L12,70.8 L15.4,70.2 L20.1,69.3 L23.7,69.9 L28.4,71.1 L31,72.5 L33.2,73.5 L36.7,77 L39,79.5 L40.3,81.8 L41.5,85.3 L40.9,90.1 L38.5,92.6 L36.7,94.8 L35.6,99.6 L35,103.1 L33.5,105.5 L32,107.9 L28.4,112.6 L23.7,115 L19,116.1 L14.2,116.7 L9.5,117.3 L4.7,116.7 L2.4,115.6 L0,113.8 L-10,114Z" fill="#0B0B0B" stroke="#1E1E1E" stroke-width="1.5" stroke-linejoin="round"/><g stroke="#4A4A4A" stroke-width="0.9" fill="none"><path d="M52.7,100.5 L107,113.3 M117,115.6 L345,169"/><path d="M56.5,345 L160,193" stroke-width="0.7"/></g><path d="M80,10 L84,12 L82.5,15.5 Z" fill="#222"/><circle cx="215.7" cy="92.4" r="1.5" fill="#F0F0F0"/><circle cx="247.7" cy="188.4" r="1.4" fill="none" stroke="#444" stroke-width="0.7"/><g fill="none" stroke="#0B0B0B"><path d="M134.5,-20 C133.5,-16.5 130.4,-5.5 128.4,1 C126.4,7.5 124.4,13.2 122.6,19 C120.8,24.8 119.4,28.9 117.3,35.6 C115.2,42.3 111.9,51.4 110.2,59.3 C108.5,67.2 107.9,75.1 107.3,83 C106.7,90.9 106.5,98.8 106.7,106.7 C106.9,114.6 108.1,125.4 108.4,130.4 C108.7,135.5 108.7,135.9 108.7,137" stroke-width="5"/><path d="M203,174.8 C230,177.5 280,181.5 360,187" stroke-width="5"/></g><path d="M104.5,137 C105.5,133 106,131 106,129 L111,129 C111,131 111.5,133 112.5,137 Z" fill="#0B0B0B"/><g fill="#0B0B0B"><path d="M55.7,151.7 L76.3,135.1 L138,135.1 C146,135.1 151,131 156,127 L191,99.5 L201.5,112 L131,171.3 L55.7,171.3 Z"/><path d="M136.3,172.3 L204.3,117 L209.5,130.5 L204.5,136.5 L204,210.5 L208.3,215 L203.5,218.5 L149,172.8 Z"/><path d="M55.7,175.3 L147.1,175.3 L201.6,220.3 L195,228.5 L160,201 L144.3,192 L131,186.5 L124.6,185 C118,182 113,179.5 105,179.2 L55.7,179.2 Z"/><rect x="124.6" y="178" width="5.6" height="200"/></g></g>
<clipPath id="cf0"><rect x="699.4" y="859.3" width="318.0" height="318.3"/></clipPath>
<clipPath id="cf1"><rect x="1026.1" y="859.3" width="317.9" height="318.3"/></clipPath>
<clipPath id="cf2"><rect x="697" y="1221.9" width="320.2" height="317.9"/></clipPath>
<clipPath id="cf3"><rect x="1029.8" y="1221.9" width="319.2" height="317.9"/></clipPath>
<clipPath id="cf4"><rect x="697.4" y="1552.2" width="319.4" height="318.0"/></clipPath>
<clipPath id="cf5"><rect x="1029.3" y="1552" width="319.5" height="317.6"/></clipPath>
<clipPath id="cf6"><rect x="0" y="1557.1" width="317.6" height="314.9"/></clipPath>
<clipPath id="cf7"><rect x="327.5" y="1557.3" width="317.6" height="314.7"/></clipPath>
</defs>
<g clip-path="url(#cf0)"><g transform="translate(699.3,850.3)"><use href="#tplB"/><ellipse cx="163.7" cy="8.7" rx="54" ry="42" fill="url(#bul)"/><circle cx="112.2" cy="151.7" r="6" fill="#fff"/><circle cx="179.7" cy="170.6" r="6" fill="#fff"/><rect x="10" y="156.9" width="40" height="26.5" rx="12" fill="none" stroke="#EC3E98" stroke-width="2.6" stroke-dasharray="4.2 3.2"/></g></g><rect x="974.3" y="1134.7" width="37.0" height="36.7" fill="#fff"/><text x="992.8" y="1159.9" font-size="25" text-anchor="middle">t1</text>
<g clip-path="url(#cf1)"><g transform="translate(1026.5,849.5)"><use href="#tplB"/><ellipse cx="186" cy="8.5" rx="54" ry="42" fill="url(#bul)"/><circle cx="113.8" cy="152.7" r="6" fill="#fff"/><circle cx="184.7" cy="171.7" r="6" fill="#fff"/><ellipse cx="224.5" cy="91.1" rx="21.3" ry="17.6" fill="#BDBDBD" fill-opacity="0.35" stroke="#EC3E98" stroke-width="2.6" stroke-dasharray="4.2 3.2"/></g></g><rect x="1304" y="1135.4" width="37.4" height="36.6" fill="#fff"/><text x="1322.7" y="1160.5" font-size="25" text-anchor="middle">t2</text>
<g clip-path="url(#cf2)"><g transform="translate(697,1221)"><use href="#tplA"/><circle cx="108.7" cy="153.6" r="6" fill="#fff"/><circle cx="182.7" cy="166" r="6" fill="#fff"/><path d="M141.7,160.3 C145.2,157.9 151.9,157.0 156.3,157.7 C160.7,158.4 165.0,161.4 168.3,164.3 C171.6,167.2 174.9,171.7 176.3,175.0 C177.8,178.3 177.9,180.8 177.0,184.3 C176.1,187.9 173.8,193.5 171.0,196.3 C168.2,199.1 164.3,201.0 160.3,201.0 C156.3,201.0 151.0,199.1 147.0,196.3 C143.0,193.5 138.3,188.3 136.3,184.3 C134.3,180.3 134.1,176.3 135.0,172.3 C135.9,168.3 138.1,162.7 141.7,160.3Z" fill="none" stroke="#EC3E98" stroke-width="2.6" stroke-dasharray="4.2 3.2" /></g></g><rect x="974.3" y="1495.4" width="37.4" height="36.7" fill="#fff"/><text x="993.0" y="1520.6" font-size="25" text-anchor="middle">t1</text>
<g clip-path="url(#cf3)"><g transform="translate(1029.2,1221.3)"><use href="#tplA"/><circle cx="112.6" cy="149.6" r="6" fill="#fff"/><circle cx="184.8" cy="166.9" r="6" fill="#fff"/><path d="M159.5,133.9 C163.5,133.9 170.8,135.9 174.0,138.7 C177.2,141.5 178.8,146.8 178.8,150.8 C178.8,154.8 175.6,159.2 174.0,162.8 C172.4,166.4 169.1,168.4 169.1,172.4 C169.1,176.4 171.2,182.9 174.0,186.9 C176.8,190.9 184.8,192.9 186.0,196.5 C187.2,200.1 183.6,206.0 181.2,208.6 C178.8,211.2 175.1,212.6 171.5,212.2 C167.9,211.8 163.1,209.5 159.5,206.1 C155.9,202.7 152.3,196.9 149.9,191.7 C147.5,186.5 145.9,181.3 145.1,174.9 C144.3,168.5 144.3,159.2 145.1,153.2 C145.9,147.2 147.5,141.9 149.9,138.7 C152.3,135.5 155.5,133.9 159.5,133.9Z" fill="none" stroke="#EC3E98" stroke-width="2.6" stroke-dasharray="4.2 3.2" /></g></g><rect x="1304.3" y="1492" width="37.3" height="36.6" fill="#fff"/><text x="1322.9" y="1517.1" font-size="25" text-anchor="middle">t2</text>
<g clip-path="url(#cf4)"><g transform="translate(697,1551.7)"><use href="#tplA"/><circle cx="111.1" cy="149.8" r="6" fill="#fff"/><circle cx="182.7" cy="167.6" r="6" fill="#fff"/><path d="M141.7,144.4 C144.5,142.2 147.7,143.0 151.4,143.2 C155.1,143.4 161.0,143.8 163.7,145.6 C166.3,147.4 167.3,151.1 167.3,154.2 C167.3,157.3 163.9,160.3 163.7,164.0 C163.5,167.7 164.1,172.5 166.1,176.2 C168.1,179.9 173.7,183.2 175.9,186.0 C178.2,188.8 179.6,190.5 179.6,193.3 C179.6,196.2 178.2,200.7 175.9,203.1 C173.7,205.5 169.8,207.9 166.1,207.5 C162.4,207.1 158.0,203.8 153.9,200.6 C149.8,197.4 145.0,192.9 141.7,188.4 C138.4,183.9 135.5,179.0 134.3,173.7 C133.1,168.4 133.1,161.5 134.3,156.6 C135.5,151.7 138.8,146.6 141.7,144.4Z" fill="none" stroke="#EC3E98" stroke-width="2.6" stroke-dasharray="4.2 3.2" /></g></g><rect x="974.3" y="1822" width="37.2" height="36.7" fill="#fff"/><text x="992.9" y="1847.2" font-size="25" text-anchor="middle">t3</text>
<g clip-path="url(#cf5)"><g transform="translate(1029.2,1551.5)"><use href="#tplA"/><circle cx="113.8" cy="153.2" r="6" fill="#fff"/><rect x="216" y="57.9" width="58" height="34" rx="15" transform="rotate(-40 245 74.9)" fill="#BDBDBD" fill-opacity="0.3" stroke="#EC3E98" stroke-width="2.6" stroke-dasharray="4.2 3.2"/></g></g><rect x="1304.3" y="1821.9" width="37.3" height="36.9" fill="#fff"/><text x="1322.9" y="1847.3" font-size="25" text-anchor="middle">t4</text>
<g clip-path="url(#cf6)"><g transform="translate(-2.4,1543.8)"><use href="#tplB"/><ellipse cx="161.2" cy="13.2" rx="54" ry="42" fill="url(#bul)"/><circle cx="113.6" cy="150.1" r="6" fill="#fff"/><circle cx="181.8" cy="169.8" r="6" fill="#fff"/><path d="M137.2,166.9 C140.1,163.5 147.3,159.3 151.7,158.5 C156.1,157.7 160.9,159.9 163.7,162.1 C166.5,164.3 166.9,168.5 168.5,171.7 C170.1,174.9 172.9,178.1 173.3,181.3 C173.7,184.5 172.9,188.2 170.9,191.0 C168.9,193.8 164.9,197.0 161.3,198.2 C157.7,199.4 152.9,199.2 149.3,198.2 C145.7,197.2 142.1,195.4 139.6,192.2 C137.1,189.0 134.7,183.1 134.3,178.9 C133.9,174.7 134.3,170.3 137.2,166.9Z" fill="none" stroke="#EC3E98" stroke-width="2.6" stroke-dasharray="4.2 3.2" /></g></g><rect x="264.8" y="1821.5" width="37.3" height="37.3" fill="#fff"/><text x="283.5" y="1847.3" font-size="25" text-anchor="middle">t1</text>
<g clip-path="url(#cf7)"><g transform="translate(324.8,1543.9)"><use href="#tplB"/><ellipse cx="181" cy="13.1" rx="54" ry="42" fill="url(#bul)"/><circle cx="110.8" cy="151.5" r="6" fill="#fff"/><ellipse cx="203" cy="110.7" rx="20.4" ry="19.2" fill="#BDBDBD" fill-opacity="0.35" stroke="#EC3E98" stroke-width="2.6" stroke-dasharray="4.2 3.2"/></g></g><rect x="597.9" y="1822" width="37.4" height="36.7" fill="#fff"/><text x="616.6" y="1847.2" font-size="25" text-anchor="middle">t2</text>
<text x="731.2" y="1151.8" font-size="24" letter-spacing="0.5">100 µm</text>
<rect x="764.6" y="1161.3" width="27.7" height="6.2" fill="#231F20"/>
<text x="702.7" y="1509" font-size="24" letter-spacing="0.5">100 µm</text>
<rect x="721.3" y="1519.4" width="27.6" height="6.2" fill="#231F20"/>
<text x="3.4" y="1841.5" font-size="24" letter-spacing="0.5">100 µm</text>
<rect x="19.3" y="1852.7" width="22.8" height="6.2" fill="#231F20"/>
<rect x="900.1" y="860.2" width="239.8" height="43.7" fill="#fff" stroke="#231F20" stroke-width="3.2"/>
<text x="1016.6" y="894.1" font-size="32" letter-spacing="0.78" text-anchor="middle">E1: General</text>
<rect x="869.9" y="1223.1999999999998" width="306.5" height="44.2" fill="#fff" stroke="#231F20" stroke-width="3.2"/>
<text x="1024.1" y="1256.6" font-size="32" letter-spacing="0.78" text-anchor="middle">E2, E3: Merging</text>
<rect x="196.1" y="1557.0" width="253.1" height="43.8" fill="#fff" stroke="#231F20" stroke-width="3.2"/>
<text x="322.4" y="1590.3" font-size="32" letter-spacing="0.78" text-anchor="middle">E2: Switching</text>
</svg>
</body></html>
